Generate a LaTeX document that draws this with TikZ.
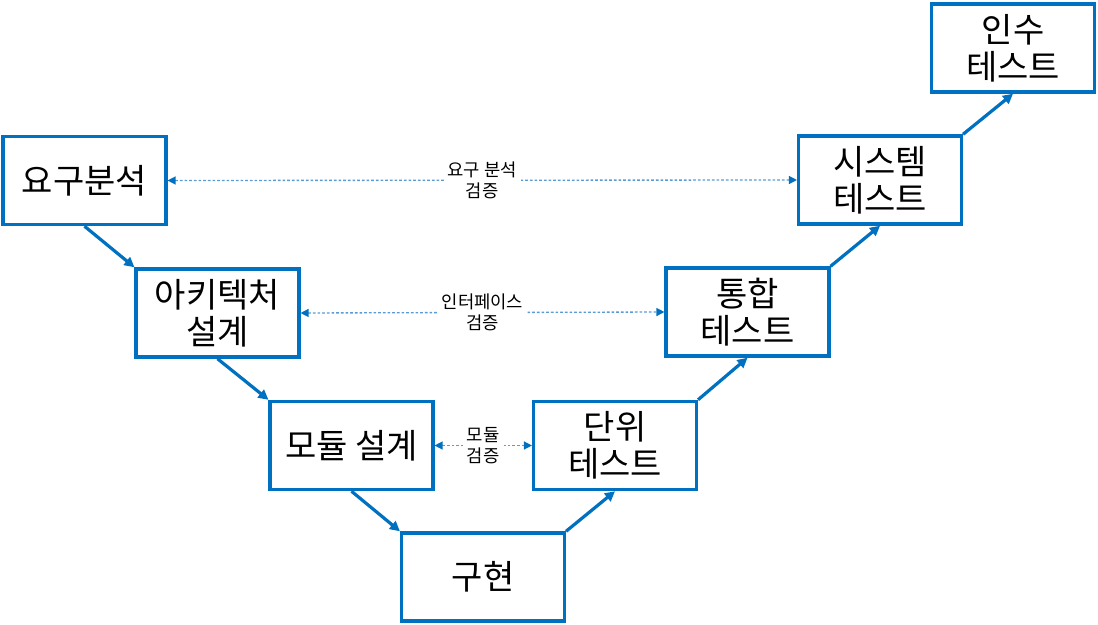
\documentclass[tikz,border=0pt]{standalone}
\usepackage{fontspec}
\setmainfont{Noto Sans CJK KR}
\usetikzlibrary{arrows.meta}
\definecolor{boxblue}{HTML}{0070C0}
\definecolor{dotblue}{HTML}{5B9BD5}
\begin{document}
\begin{tikzpicture}[x=0.75pt,y=-0.75pt,
  stage/.style={draw=boxblue, line width=2.6pt, minimum width=122pt, minimum height=66pt,
    inner sep=0pt, font=\fontsize{25.5}{27.75}\selectfont, align=center, fill=white},
  flow/.style={draw=boxblue, line width=2.4pt, -{Triangle[length=7.5pt,width=7.5pt]}},
  verif/.style={draw=dotblue, line width=1pt, dash pattern=on 2pt off 1.5pt,
    {Triangle[length=6pt,width=6pt,color=boxblue]}-{Triangle[length=6pt,width=6pt,color=boxblue]}},
  vlabel/.style={fill=white, font=\fontsize{13.3}{16}\selectfont, align=center, inner sep=3pt}]
\useasboundingbox (0,0) rectangle (1098,624);
\node[stage] (A) at (84.5,180.5) {요구분석};
\node[stage] (B) at (217.5,313) {아키텍처\\설계};
\node[stage] (C) at (351.5,445.5) {모듈 설계};
\node[stage] (D) at (483,577) {구현};
\node[stage] (E) at (615,445.5) {단위\\테스트};
\node[stage] (F) at (747.5,312) {통합\\테스트};
\node[stage] (G) at (880,180) {시스템\\테스트};
\node[stage] (H) at (1013,48) {인수\\테스트};
\draw[flow] (A.south) -- (B.north west);
\draw[flow] (B.south) -- (C.north west);
\draw[flow] (C.south) -- (D.north west);
\draw[flow] (D.north east) -- (E.south);
\draw[flow] (E.north east) -- (F.south);
\draw[flow] (F.north east) -- (G.south);
\draw[flow] (G.north east) -- (H.south);
\draw[verif] (A.east) -- (G.west) node[vlabel, pos=0.5] (L1) {요구 분석\\검증};
\draw[verif] (B.east) -- (F.west) node[vlabel, pos=0.5] (L2) {인터페이스\\검증};
\draw[verif] (C.east) -- (E.west) node[vlabel, pos=0.5] (L3) {모듈\\검증};
\end{tikzpicture}
\end{document}
